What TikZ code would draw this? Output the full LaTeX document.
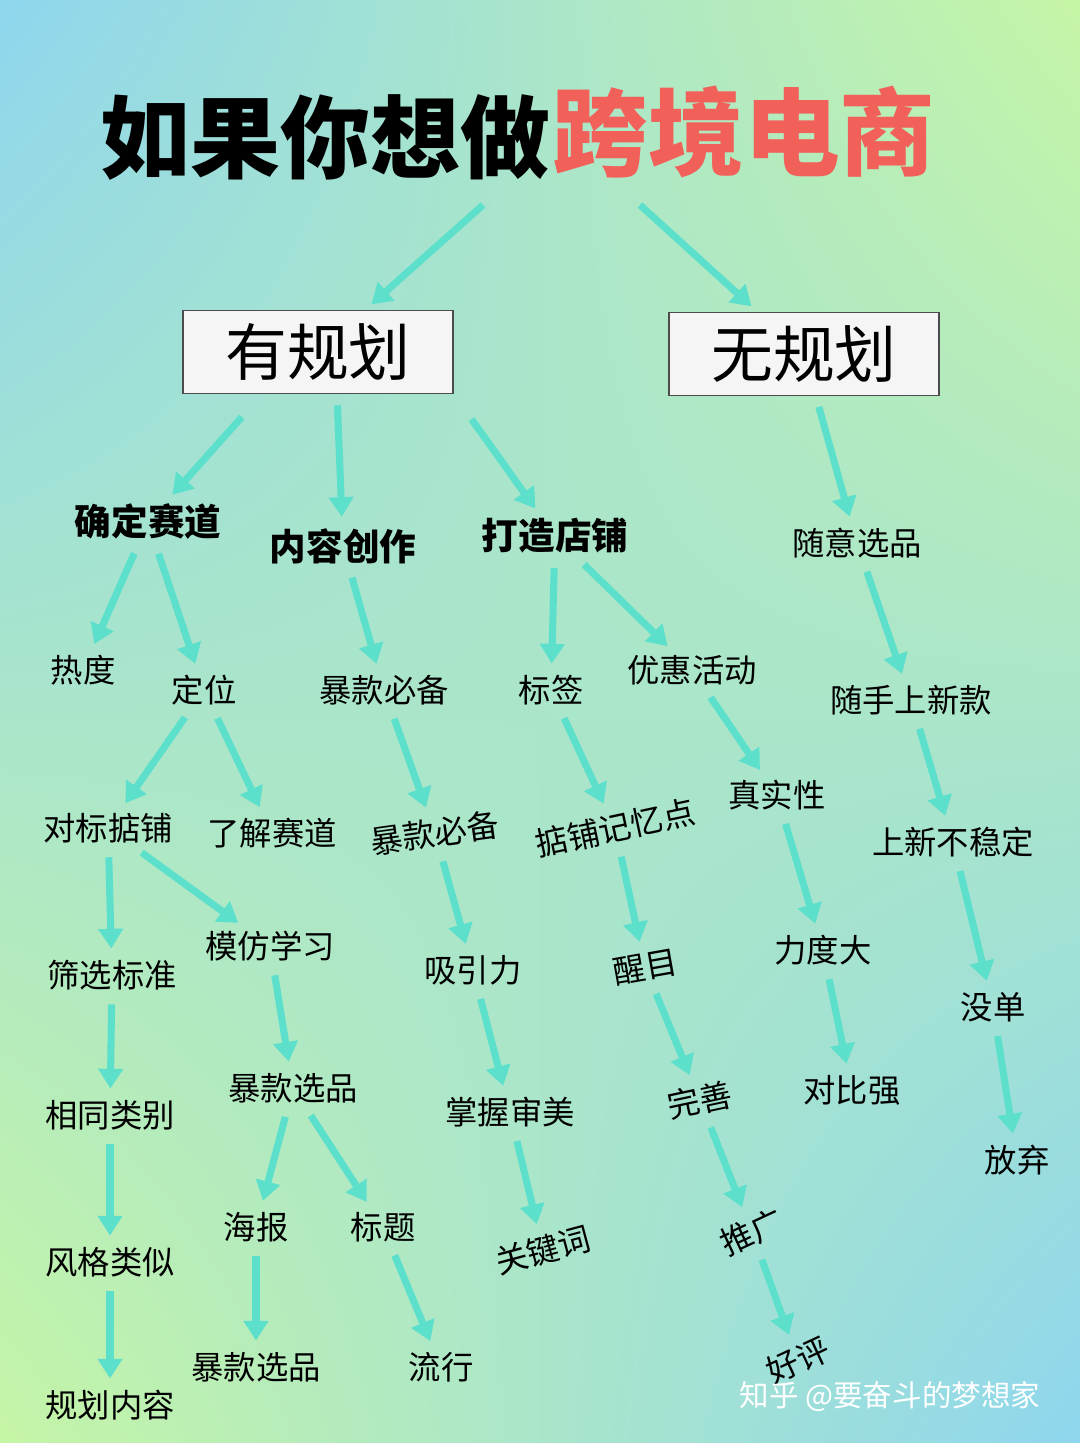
\documentclass[tikz,border=0pt]{standalone}
\usepackage{fontspec}
\setmainfont{Noto Sans CJK SC}
\usepackage{xcolor}
\usetikzlibrary{arrows.meta,shadings}
\definecolor{arrowc}{HTML}{5CE0CC}
\definecolor{titlered}{HTML}{F2605A}
\definecolor{bgblue}{HTML}{8ED6EE}
\definecolor{bggreen}{HTML}{C6F5A6}
\tikzset{
  flow/.style={draw=arrowc,line width=5pt,-{Triangle[length=14pt,width=17pt]},
    shorten <=8pt,shorten >=6pt},
  leaf/.style={font=\fontsize{23}{25}\selectfont,inner sep=2pt},
  branch/.style={font=\fontsize{26}{28}\selectfont\bfseries,inner sep=2pt},
  planbox/.style={draw=black!70,fill=black!4,line width=0.8pt,minimum width=192pt,
    minimum height=59pt,font=\fontsize{44}{48}\selectfont}
}
\begin{document}
\begin{tikzpicture}[x=0.025cm,y=-0.025cm]
  \useasboundingbox (0,0) rectangle (1080,1443);
  \shade[upper left=bgblue,upper right=bggreen,lower left=bggreen,lower right=bgblue]
    (0,0) rectangle (1080,1443);

  % title
  \node[font=\fontsize{64}{68}\selectfont\bfseries,anchor=east] (t1) at (555,137) {如果你想做};
  \node[font=\fontsize{68}{72}\selectfont\bfseries,text=titlered,anchor=west] (t2) at (548,132) {跨境电商};
  \node[planbox] (plan) at (318,352) {有规划};
  \node[planbox] (noplan) at (804,354) {无规划};
  \coordinate (ta) at (483,205); \coordinate (tb) at (640,205);
  \draw[flow,shorten <=0pt] (ta) -- (plan);
  \draw[flow,shorten <=0pt] (tb) -- (noplan);

  % second level
  \node[branch] (track) at (148,522) {确定赛道};
  \node[branch] (content) at (343,546) {内容创作};
  \node[branch] (shop) at (555,536) {打造店铺};
  \node[leaf] (random) at (857,543) {随意选品};
  \draw[flow,shorten <=22pt] (plan.south west) ++(80,0) -- (track);
  \draw[flow] (plan.south) ++(19,0) -- (content);
  \draw[flow,shorten <=22pt] (plan.south east) -- (shop);
  \draw[flow] (noplan) -- (random);

  % third level
  \node[leaf] (heat) at (83,670) {热度};
  \node[leaf] (pos) at (204,690) {定位};
  \node[leaf] (hit1) at (384,690) {暴款必备};
  \node[leaf] (tag) at (551,690) {标签};
  \node[leaf] (promo) at (692,670) {优惠活动};
  \node[leaf] (newin) at (911,700) {随手上新款};
  \draw[flow] (track) -- (heat);
  \draw[flow] (track) -- (pos);
  \draw[flow] (content) -- (hit1);
  \draw[flow] (shop) -- (tag);
  \draw[flow] (shop) -- (promo);
  \draw[flow] (random) -- (newin);

  % fourth level
  \node[leaf] (bench) at (108,828) {对标掂铺};
  \node[leaf] (learn) at (272,833) {了解赛道};
  \node[leaf,rotate=8] (hit2) at (435,833) {暴款必备};
  \node[leaf,rotate=12] (memo) at (615,828) {掂铺记忆点};
  \node[leaf] (real) at (777,795) {真实性};
  \node[leaf] (unstable) at (953,842) {上新不稳定};
  \draw[flow] (pos) -- (bench);
  \draw[flow] (pos) -- (learn);
  \draw[flow] (hit1) -- (hit2);
  \draw[flow] (tag) -- (memo);
  \draw[flow] (promo) -- (real);
  \draw[flow] (newin) -- (unstable);

  % fifth level
  \node[leaf] (filter) at (112,975) {筛选标准};
  \node[leaf] (imitate) at (270,946) {模仿学习};
  \node[leaf] (attract) at (473,970) {吸引力};
  \node[leaf,rotate=10] (eye) at (645,967) {醒目};
  \node[leaf] (strong) at (823,950) {力度大};
  \node[leaf] (noorder) at (993,1007) {没单};
  \draw[flow] (bench) -- (filter);
  \draw[flow] (bench) -- (imitate);
  \draw[flow] (hit2) -- (attract);
  \draw[flow] (memo) -- (eye);
  \draw[flow] (real) -- (strong);
  \draw[flow] (unstable) -- (noorder);

  % sixth level
  \node[leaf] (same) at (110,1115) {相同类别};
  \node[leaf] (pick1) at (293,1088) {暴款选品};
  \node[leaf] (taste) at (510,1112) {掌握审美};
  \node[leaf,rotate=12] (perfect) at (700,1100) {完善};
  \node[leaf] (contrast) at (852,1090) {对比强};
  \node[leaf] (quit) at (1017,1160) {放弃};
  \draw[flow] (filter) -- (same);
  \draw[flow] (imitate) -- (pick1);
  \draw[flow] (attract) -- (taste);
  \draw[flow] (eye) -- (perfect);
  \draw[flow] (strong) -- (contrast);
  \draw[flow] (noorder) -- (quit);

  % seventh level
  \node[leaf] (style) at (110,1262) {风格类似};
  \node[leaf] (poster) at (256,1227) {海报};
  \node[leaf] (heading) at (383,1227) {标题};
  \node[leaf,rotate=15] (keyword) at (543,1250) {关键词};
  \node[leaf,rotate=25] (spread) at (752,1232) {推广};
  \draw[flow] (same) -- (style);
  \draw[flow] (pick1) -- (poster);
  \draw[flow] (pick1) -- (heading);
  \draw[flow] (taste) -- (keyword);
  \draw[flow] (perfect) -- (spread);

  % eighth level
  \node[leaf] (planc) at (110,1405) {规划内容};
  \node[leaf] (pick2) at (256,1367) {暴款选品};
  \node[leaf] (trend) at (441,1367) {流行};
  \node[leaf,rotate=25] (review) at (798,1360) {好评};
  \draw[flow] (style) -- (planc);
  \draw[flow] (poster) -- (pick2);
  \draw[flow] (heading) -- (trend);
  \draw[flow] (spread) -- (review);

  \node[text=white,font=\fontsize{21}{24}\selectfont] (mark) at (890,1397) {知乎 @要奋斗的梦想家};
\end{tikzpicture}
\end{document}
